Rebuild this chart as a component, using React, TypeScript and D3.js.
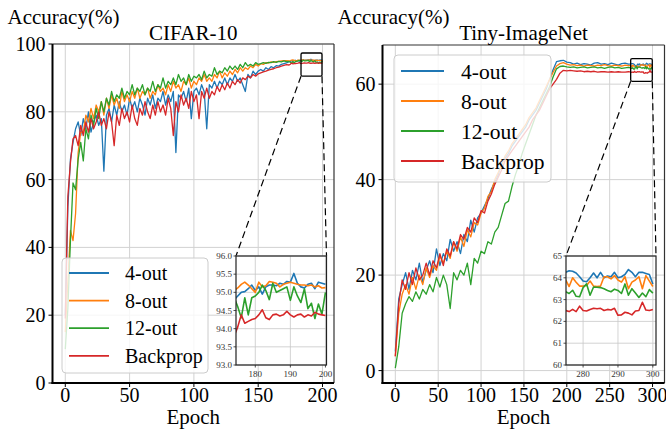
import React from "react";
import * as d3 from "d3";

const FONT = "Liberation Serif";

const seriesNames = ["4-out", "8-out", "12-out", "Backprop"];
const seriesColors = ["#1f77b4", "#ff7f0e", "#2ca02c", "#d62728"];

// ---- CIFAR-10: every 2nd epoch up to 172, then every epoch (inset range)
const cifarCoarseEpochs = d3.range(0, 173, 2);
const cifarFineEpochs = d3.range(174, 201);

const cifar4Coarse = [20, 52, 66, 71, 75, 77, 73, 78, 75, 80, 74, 77, 79, 76, 78, 62.5, 79, 81, 77, 82, 79, 83, 80, 82, 79, 84, 81, 83, 80, 84, 82, 79, 84, 82, 85, 81, 84, 83, 86, 82, 85, 83, 86, 68, 85, 84, 86, 83, 87, 78, 86, 87, 85, 88, 86, 75, 88, 87, 89, 87, 89, 88, 90, 88, 90, 89, 91, 89, 90, 88, 86, 91, 90, 92, 91, 92, 92.5, 92, 93, 92.5, 93.3, 93, 93.6, 93.5, 94, 94.2, 94.4];
const cifar8Coarse = [15, 30, 45, 42, 50, 68, 74, 74, 79, 77, 81, 78, 82, 80, 83, 79, 84, 81, 85, 82, 84, 81, 86, 83, 85, 83, 86, 84, 87, 84, 86, 85, 87, 84, 86, 85, 88, 86, 87, 85, 88, 86, 89, 87, 88, 86, 89, 88, 90, 87, 89, 88, 90, 89, 91, 89, 90, 89, 91, 90, 92, 90, 91.5, 90.5, 92, 91, 92.5, 91.5, 93, 92, 93, 92.5, 93.5, 93, 94, 93.5, 94.2, 94, 94.5, 94.4, 94.7, 94.6, 94.8, 94.9, 95, 95.1, 95.1];
const cifar12Coarse = [10, 22, 42, 59, 57, 66, 71, 65.5, 75, 72, 79, 76, 81, 78, 83, 80, 84, 82, 86, 83, 85, 84, 87, 84, 86, 85, 88, 85, 87, 86, 88, 85, 87, 86, 89, 86, 88, 87, 90, 87, 89, 88, 90, 88, 91, 89, 90, 88, 91, 89, 90.5, 90, 91, 89.5, 92, 90, 91, 90.5, 93, 91, 92, 91.5, 93, 92, 93.5, 92.5, 93.5, 92.5, 94, 93, 94.5, 93.5, 94, 93.5, 94.5, 94, 94.2, 94.5, 94.3, 94.6, 94.5, 94.8, 94.6, 94.9, 94.7, 95, 94.8];
const cifarBpCoarse = [19, 55, 65, 72, 73, 70, 76, 73, 77, 74, 78, 75, 77, 80, 76, 78, 75, 80, 77, 70, 79, 76, 81, 78, 80, 77, 82, 78, 76, 81, 79, 83, 80, 78, 82, 79, 83, 80, 82, 79, 84, 81, 73, 83, 80, 85, 82, 84, 81, 86, 83, 85, 78, 86, 84, 87, 84, 86, 85, 87.5, 86, 88, 86.5, 88.5, 87, 89, 88, 89.5, 88.5, 90, 89.5, 90.5, 90, 91, 90.5, 91.2, 91.5, 91.8, 92, 92.3, 92.5, 92.7, 93, 93.2, 93.5, 93.7, 93.9];

const cifar4Fine = [94.8, 94.9, 95.0, 95.02, 95.1, 95.2, 95.05, 95.15, 94.95, 95.15, 95.2, 95.2, 95.18, 95.25, 95.22, 95.3, 95.28, 95.52, 95.25, 95.15, 95.12, 95.22, 95.25, 95.1, 95.28, 95.25, 95.22];
const cifar8Fine = [95.05, 95.12, 95.22, 95.28, 95.2, 95.1, 95.0, 95.28, 95.15, 95.18, 95.3, 95.28, 95.25, 95.15, 95.22, 95.25, 95.28, 95.25, 95.22, 95.2, 95.2, 95.18, 95.2, 95.15, 95.18, 95.12, 95.13];
const cifar12Fine = [94.85, 94.6, 94.3, 94.85, 94.38, 94.85, 94.9, 95.0, 95.2, 95.05, 94.8, 95.25, 95.0, 95.05, 95.1, 95.15, 94.78, 95.15, 94.9, 94.72, 95.1, 94.55, 94.7, 94.28, 94.68, 94.4, 95.0];
const cifarBpFine = [93.8, 94.05, 94.38, 94.15, 94.2, 94.25, 94.28, 94.38, 94.52, 94.3, 94.25, 94.38, 94.4, 94.35, 94.38, 94.48, 94.38, 94.32, 94.38, 94.4, 94.32, 94.38, 94.35, 94.45, 94.4, 94.38, 94.36];

// ---- Tiny-ImageNet: every 4th epoch up to 272, then every epoch (inset range)
const tinyCoarseEpochs = d3.range(0, 273, 4);
const tinyFineEpochs = d3.range(275, 301);

const tiny4Coarse = [4, 15, 18, 20.5, 17, 21, 19, 22.5, 18.5, 21, 23, 20.5, 25.5, 22, 24.5, 23, 27.5, 25, 27, 24.5, 28.5, 27, 31.5, 29, 32, 33, 34.5, 36, 38, 39.5, 41, 43.5, 44.5, 45.5, 47, 48, 49, 50, 51, 52.5, 53.5, 54.5, 56, 57.5, 59, 61, 63, 64.7, 64.9, 65, 64.6, 64.5, 64.2, 64.4, 64.1, 64.3, 64.2, 64.0, 64.4, 64.5, 64.2, 64.3, 64.1, 64.4, 64.2, 64.0, 64.3, 64.4, 64.2];
const tiny8Coarse = [3, 12, 16, 18, 16, 19.5, 17, 20, 18, 21.5, 19.5, 22, 21, 24, 22.5, 25, 23.5, 27, 25, 28, 26, 29.5, 28, 31, 30.5, 33, 34, 36.5, 37.5, 40, 41.5, 43, 45, 46, 47.5, 48.5, 49.5, 50.5, 51.5, 53, 54, 55, 56.5, 58, 59.5, 61, 62.5, 63.8, 64.3, 64.5, 64.2, 64.0, 64.1, 63.9, 64.0, 63.8, 64.0, 63.9, 63.8, 64.0, 63.9, 64.1, 63.9, 63.8, 64.0, 63.9, 63.8, 64.0, 63.9];
const tiny12Coarse = [0.5, 5, 12, 14, 15.5, 14.5, 16.5, 15, 17, 16, 18, 16.5, 19.5, 17.5, 20, 18, 13, 20.5, 19, 21, 20, 22.5, 18, 23.5, 22.5, 25, 24.5, 27, 26.5, 29, 30, 32.5, 35, 35.5, 38.5, 41, 43, 45.5, 47.5, 49.5, 51.5, 53.5, 55, 56.5, 58, 59.5, 61.5, 63.2, 63.7, 63.8, 63.6, 63.5, 63.6, 63.4, 63.5, 63.6, 63.4, 63.5, 63.6, 63.4, 63.5, 63.3, 63.5, 63.6, 63.4, 63.5, 63.3, 63.4, 63.5];
const tinyBpCoarse = [3, 14, 19, 17, 20.5, 18, 21.5, 19, 20, 22.5, 20, 23, 21.5, 24.5, 22, 25.5, 24, 27, 25.5, 28.5, 27.5, 30, 29, 32, 31, 33.5, 33, 35.5, 37, 39, 40.5, 42, 44, 45, 46, 47, 48, 49, 50, 51, 52.5, 53.5, 54.5, 56, 57.5, 59, 60, 61, 62.3, 62.9, 62.8, 62.9, 62.8, 62.7, 62.8, 62.6, 62.7, 62.6, 62.7, 62.5, 62.6, 62.6, 62.5, 62.6, 62.5, 62.6, 62.5, 62.5, 62.6];

const tiny4Fine = [64.25, 64.32, 64.3, 64.22, 64.05, 63.85, 63.82, 64.0, 64.22, 64.0, 64.25, 64.0, 64.08, 64.05, 64.25, 64.0, 64.05, 64.15, 64.38, 64.25, 64.05, 64.25, 64.25, 64.2, 64.15, 63.72];
const tiny8Fine = [63.9, 63.6, 64.0, 63.8, 63.62, 63.62, 63.65, 63.85, 63.62, 63.6, 63.62, 64.05, 64.05, 63.95, 64.1, 63.9, 63.8, 64.05, 63.5, 63.8, 63.9, 64.05, 63.5, 64.1, 63.85, 63.6];
const tiny12Fine = [63.36, 63.28, 63.43, 63.15, 63.13, 63.55, 63.72, 63.2, 63.58, 63.57, 63.55, 63.5, 63.42, 63.36, 63.48, 63.42, 63.28, 63.72, 63.2, 63.5, 63.3, 63.1, 63.3, 63.13, 63.46, 63.3];
const tinyBpFine = [62.5, 62.45, 62.55, 62.45, 62.7, 62.5, 62.48, 62.55, 62.6, 62.58, 62.6, 62.5, 62.55, 62.52, 62.6, 62.28, 62.3, 62.42, 62.38, 62.3, 62.48, 62.5, 62.88, 62.52, 62.5, 62.55];

const mainXTicks = { cifar: [0, 50, 100, 150, 200], tiny: [0, 50, 100, 150, 200, 250, 300] };
const mainYTicks = { cifar: [0, 20, 40, 60, 80, 100], tiny: [0, 20, 40, 60] };
const insetXTicks = { cifar: [180, 190, 200], tiny: [280, 290, 300] };
const insetYTicks = { cifar: [93, 93.5, 94, 94.5, 95, 95.5, 96], tiny: [60, 61, 62, 63, 64, 65] };

type Pt = [number, number];
type Series = { name: string; color: string; main: Pt[]; fine: Pt[] };

function buildSeries(coarseX: number[], fineX: number[], coarse: number[][], fine: number[][]): Series[] {
  return seriesNames.map((name, i) => {
    const c = coarseX.map((e, j) => [e, coarse[i][j]] as Pt);
    const f = fineX.map((e, j) => [e, fine[i][j]] as Pt);
    return { name, color: seriesColors[i], main: [...c, ...f], fine: f };
  });
}

const cifarSeries = buildSeries(cifarCoarseEpochs, cifarFineEpochs,
  [cifar4Coarse, cifar8Coarse, cifar12Coarse, cifarBpCoarse],
  [cifar4Fine, cifar8Fine, cifar12Fine, cifarBpFine]);
const tinySeries = buildSeries(tinyCoarseEpochs, tinyFineEpochs,
  [tiny4Coarse, tiny8Coarse, tiny12Coarse, tinyBpCoarse],
  [tiny4Fine, tiny8Fine, tiny12Fine, tinyBpFine]);

// one text helper so every label gets the serif face
function T({ children, size, ...rest }: any) {
  return (
    <text fontSize={size} fontFamily={FONT} style={{ fontFamily: FONT }} {...rest}>
      {children}
    </text>
  );
}

function Inset({ id, frame, xDomain, yDomain, xTicks, yTicks, yFmt, series }: any) {
  const x = d3.scaleLinear().domain(xDomain).range([frame.left, frame.right]);
  const y = d3.scaleLinear().domain(yDomain).range([frame.bottom, frame.top]);
  const line = d3.line<Pt>().x((d) => x(d[0])).y((d) => y(d[1]));
  const w = frame.right - frame.left, h = frame.bottom - frame.top;
  return (
    <g>
      <rect x={frame.left} y={frame.top} width={w} height={h} fill="#fff" />
      <clipPath id={id}>
        <rect x={frame.left} y={frame.top} width={w} height={h} />
      </clipPath>
      {xTicks.map((t: number) => (
        <line key={"gx" + t} x1={x(t)} x2={x(t)} y1={frame.top} y2={frame.bottom} stroke="#c8c8c8" strokeWidth={0.8} />
      ))}
      {yTicks.map((t: number) => (
        <line key={"gy" + t} x1={frame.left} x2={frame.right} y1={y(t)} y2={y(t)} stroke="#c8c8c8" strokeWidth={0.8} />
      ))}
      <g clipPath={`url(#${id})`}>
        {series.map((s: Series) => (
          <path key={s.name} d={line(s.fine) || ""} fill="none" stroke={s.color} strokeWidth={1.6} strokeLinejoin="round" />
        ))}
      </g>
      <rect x={frame.left} y={frame.top} width={w} height={h} fill="none" stroke="#222" strokeWidth={1.2} />
      {yTicks.map((t: number) => (
        <g key={"ty" + t}>
          <line x1={frame.left - 2.5} x2={frame.left} y1={y(t)} y2={y(t)} stroke="#222" strokeWidth={0.8} />
          <T x={frame.left - 4} y={y(t)} dy="0.34em" textAnchor="end" size={9} fill="#333">{yFmt(t)}</T>
        </g>
      ))}
      {xTicks.map((t: number) => (
        <g key={"tx" + t}>
          <line x1={x(t)} x2={x(t)} y1={frame.bottom} y2={frame.bottom + 2.5} stroke="#222" strokeWidth={0.8} />
          <T x={x(t)} y={frame.bottom + 12} textAnchor="middle" size={9} fill="#333">{t}</T>
        </g>
      ))}
    </g>
  );
}

function Panel(p: any) {
  const { frame, xDomain, yDomain, xTicks, yTicks, series, title, box, inset, legend } = p;
  const x = d3.scaleLinear().domain(xDomain).range([frame.left, frame.right]);
  const y = d3.scaleLinear().domain(yDomain).range([frame.bottom, frame.top]);
  const line = d3.line<Pt>().x((d) => x(d[0])).y((d) => y(d[1]));
  const cx = (frame.left + frame.right) / 2;
  const bx0 = x(box.x0), bx1 = x(box.x1), by0 = y(box.y1), by1 = y(box.y0);
  return (
    <g>
      {xTicks.map((t: number) => (
        <line key={"gx" + t} x1={x(t)} x2={x(t)} y1={frame.top} y2={frame.bottom} stroke="#d2d2d2" strokeWidth={1} />
      ))}
      {yTicks.map((t: number) => (
        <line key={"gy" + t} x1={frame.left} x2={frame.right} y1={y(t)} y2={y(t)} stroke="#d2d2d2" strokeWidth={1} />
      ))}
      {series.map((s: Series) => (
        <path key={s.name} d={line(s.main) || ""} fill="none" stroke={s.color} strokeWidth={1.3} strokeLinejoin="round" />
      ))}
      {/* spines */}
      <line x1={frame.left} x2={frame.right} y1={frame.top} y2={frame.top} stroke="#333" strokeWidth={1.2} />
      <line x1={frame.right} x2={frame.right} y1={frame.top} y2={frame.bottom} stroke="#333" strokeWidth={1.2} />
      <line x1={frame.left} x2={frame.left} y1={frame.top} y2={frame.bottom + 1} stroke="#000" strokeWidth={2} />
      <line x1={frame.left - 1} x2={frame.right} y1={frame.bottom} y2={frame.bottom} stroke="#000" strokeWidth={2} />
      {yTicks.map((t: number) => (
        <g key={"ty" + t}>
          <line x1={frame.left - 4} x2={frame.left} y1={y(t)} y2={y(t)} stroke="#000" strokeWidth={1} />
          <T x={frame.left - 7} y={y(t)} dy="0.35em" textAnchor="end" size={20}>{t}</T>
        </g>
      ))}
      {xTicks.map((t: number) => (
        <g key={"tx" + t}>
          <line x1={x(t)} x2={x(t)} y1={frame.bottom} y2={frame.bottom + 4} stroke="#000" strokeWidth={1} />
          <T x={x(t)} y={frame.bottom + 19} textAnchor="middle" size={20}>{t}</T>
        </g>
      ))}
      <T x={cx} y={424} textAnchor="middle" size={21}>Epoch</T>
      <T x={cx} y={39.5} textAnchor="middle" size={21}>{title}</T>
      <T x={frame.left - 45} y={24} size={21}>Accuracy(%)</T>

      {/* zoom box and connectors */}
      <rect x={bx0} y={by0} width={bx1 - bx0} height={by1 - by0} rx={1.5} fill="none" stroke="#000" strokeWidth={1.3} />
      <line x1={bx0} y1={by1} x2={inset.frame.left} y2={inset.frame.top} stroke="#000" strokeWidth={1.2} strokeDasharray="7,4" />
      <line x1={bx1} y1={by1} x2={inset.frame.right} y2={inset.frame.top} stroke="#000" strokeWidth={1.2} strokeDasharray="7,4" />

      {/* legend */}
      <rect x={legend.x} y={legend.y} width={legend.w} height={legend.h} rx={4} fill="#fff" fillOpacity={0.8} stroke="#cccccc" strokeWidth={1} />
      {series.map((s: Series, i: number) => {
        const ry = legend.row0 + i * legend.step;
        return (
          <g key={"lg" + s.name}>
            <line x1={legend.h0} x2={legend.h1} y1={ry} y2={ry} stroke={s.color} strokeWidth={1.8} />
            <T x={legend.tx} y={ry} dy="0.35em" size={legend.fs}>{s.name}</T>
          </g>
        );
      })}

      <Inset {...inset} series={series} />
    </g>
  );
}

const cifarPanel = {
  frame: { left: 52.5, right: 334, top: 44, bottom: 383 },
  xDomain: [-9.95, 208.95],
  yDomain: [0, 100],
  xTicks: mainXTicks.cifar,
  yTicks: mainYTicks.cifar,
  series: cifarSeries,
  title: "CIFAR-10",
  box: { x0: 183.3, x1: 199.6, y0: 90.5, y1: 97.35 },
  legend: { x: 62, y: 258, w: 146, h: 115, row0: 273, step: 27.6, h0: 69, h1: 109, tx: 125, fs: 20 },
  inset: {
    id: "clip-cifar",
    frame: { left: 236, right: 326.5, top: 256, bottom: 365 },
    xDomain: [174.5, 200.3],
    yDomain: [93, 96],
    xTicks: insetXTicks.cifar,
    yTicks: insetYTicks.cifar,
    yFmt: d3.format(".1f"),
  },
};

const tinyPanel = {
  frame: { left: 382.5, right: 664.5, top: 45, bottom: 383 },
  xDomain: [-14.95, 313.95],
  yDomain: [-2.6, 68.2],
  xTicks: mainXTicks.tiny,
  yTicks: mainYTicks.tiny,
  series: tinySeries,
  title: "Tiny-ImageNet",
  box: { x0: 274.5, x1: 299.7, y0: 60.6, y1: 65.35 },
  legend: { x: 394, y: 55, w: 157, h: 127, row0: 71, step: 30, h0: 401, h1: 444, tx: 461, fs: 21.5 },
  inset: {
    id: "clip-tiny",
    frame: { left: 566, right: 656, top: 256, bottom: 365 },
    xDomain: [275.1, 300.9],
    yDomain: [60, 65],
    xTicks: insetXTicks.tiny,
    yTicks: insetYTicks.tiny,
    yFmt: d3.format("d"),
  },
};

export default function App() {
  return (
    <svg width={666} height={431} style={{ position: "absolute", left: 0, top: 0 }} fontFamily={FONT}>
      <style>{`text { font-family: "Liberation Serif", serif; }`}</style>
      <rect width={666} height={431} fill="#fff" />
      <Panel {...cifarPanel} />
      <Panel {...tinyPanel} />
    </svg>
  );
}
